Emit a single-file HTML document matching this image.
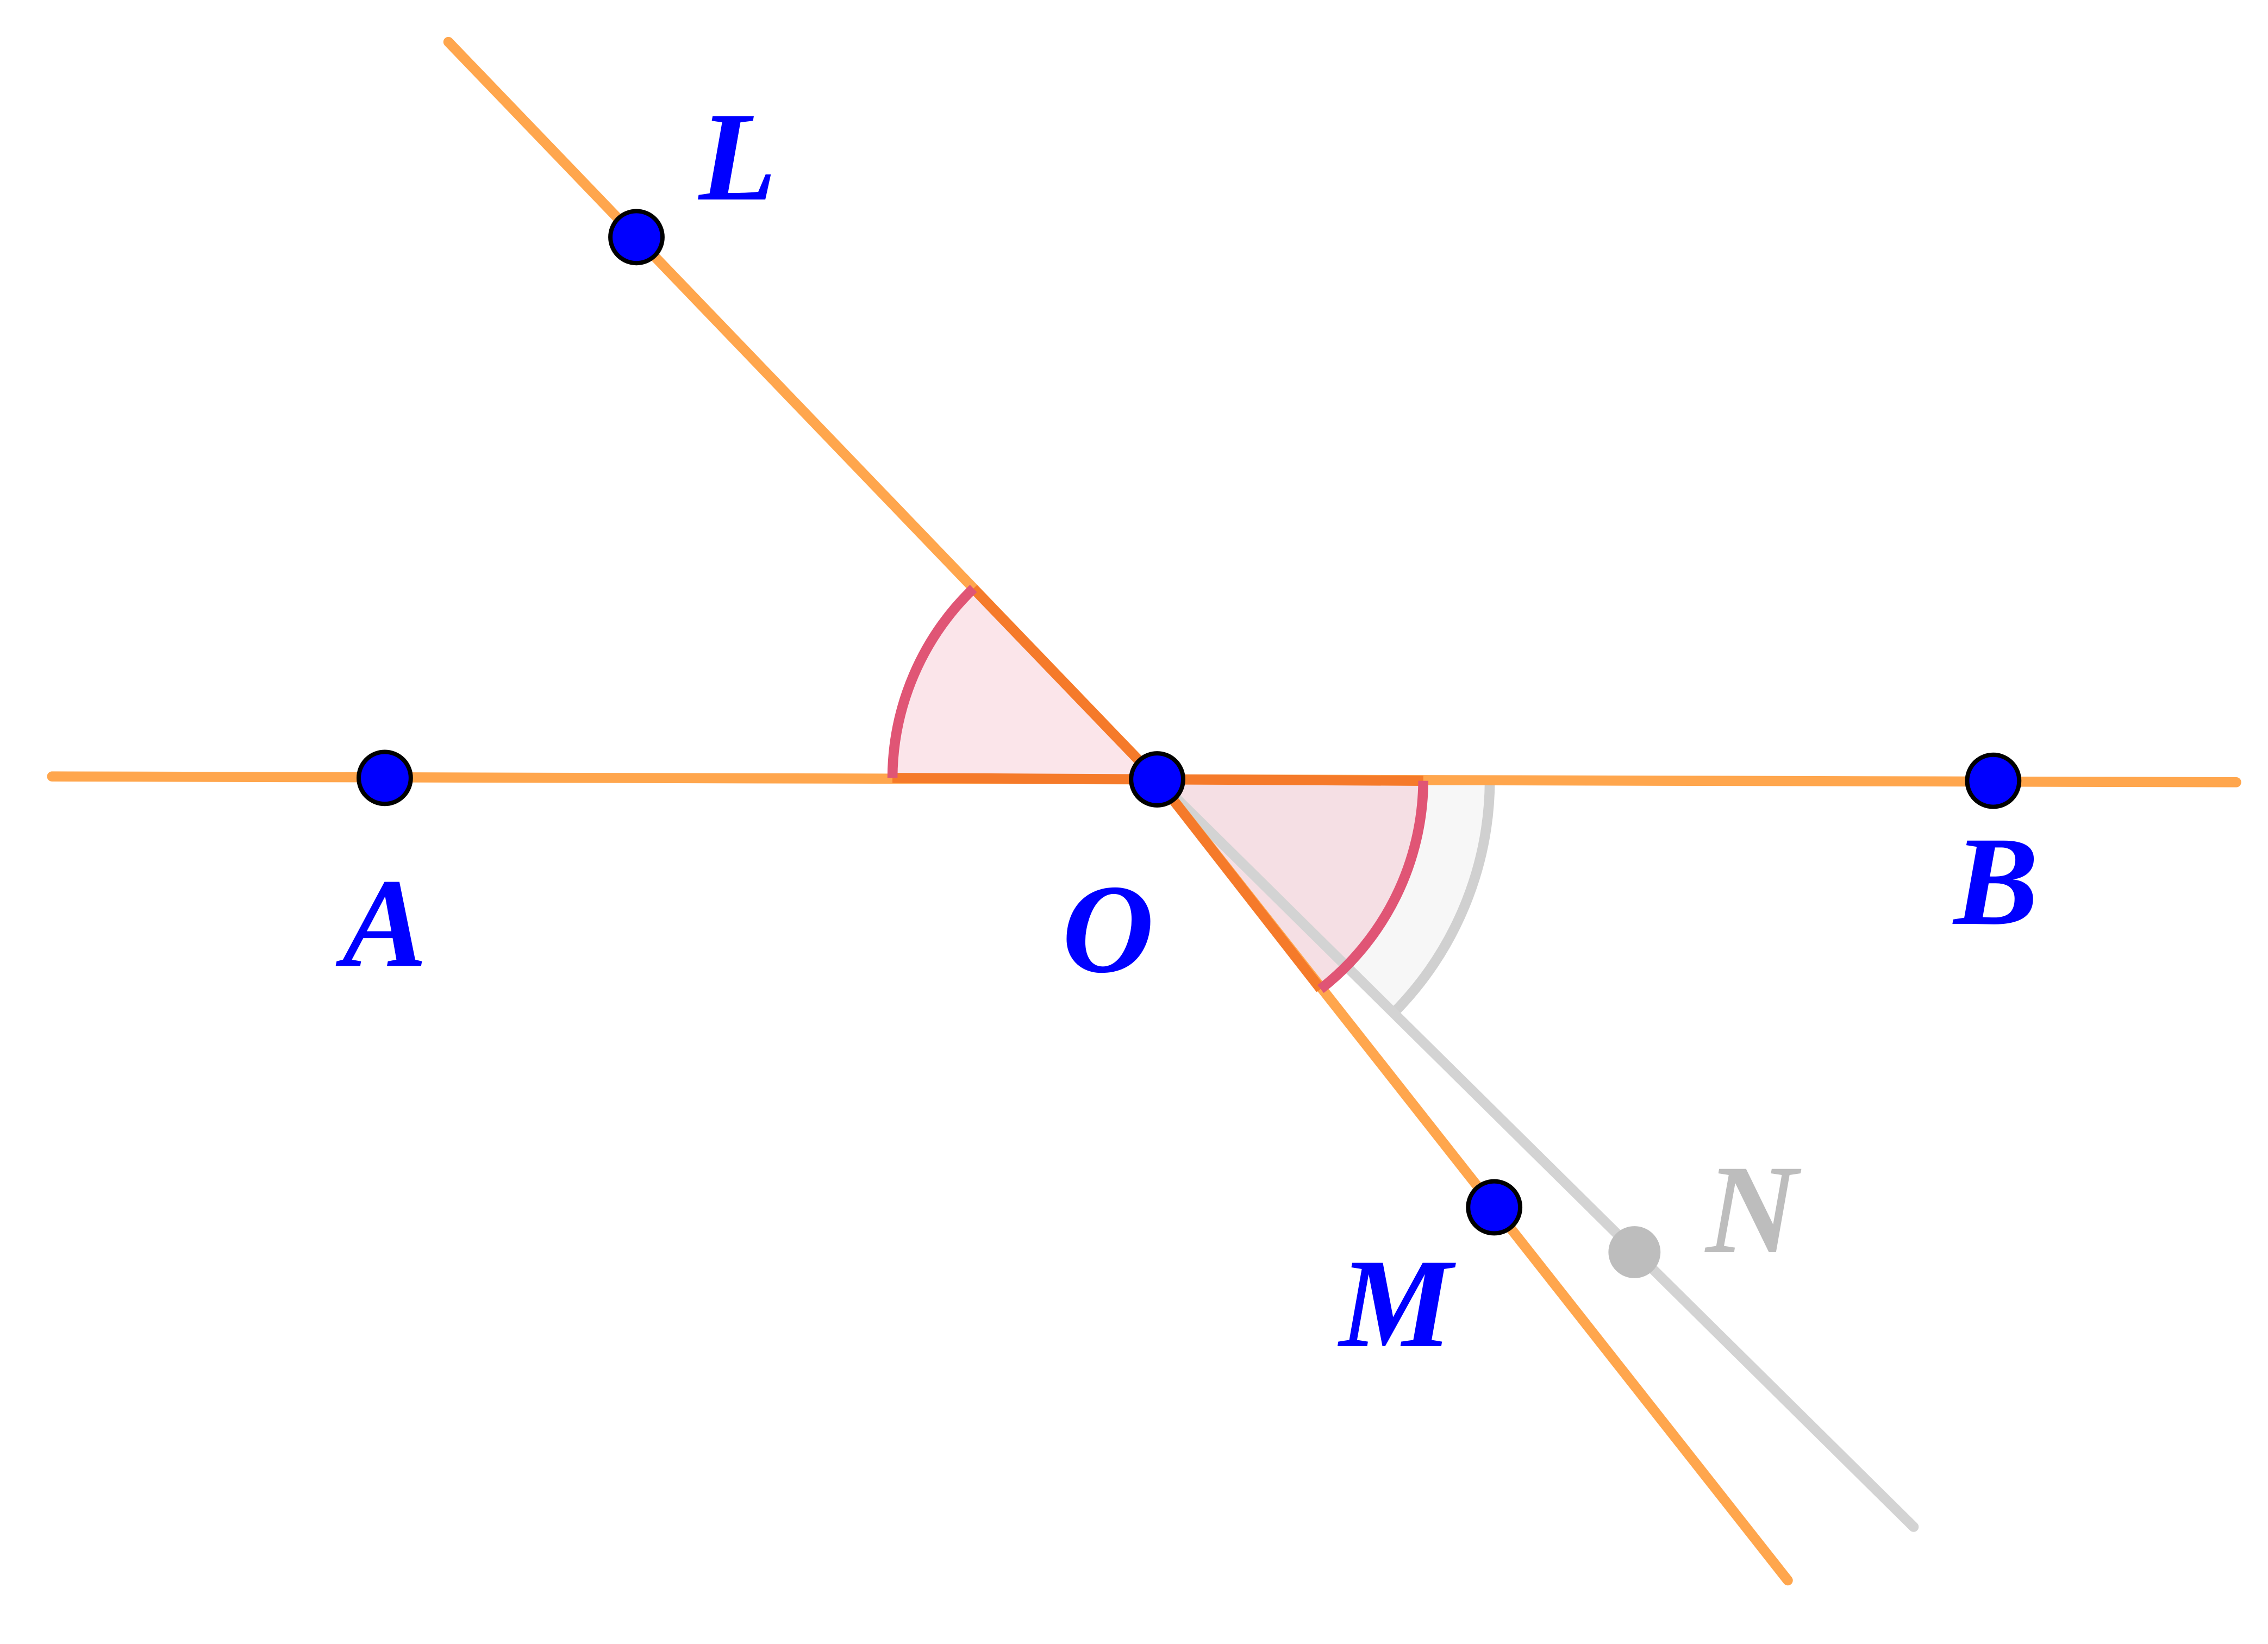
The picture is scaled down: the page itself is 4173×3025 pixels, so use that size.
<!DOCTYPE html>
<html><head><meta charset="utf-8"><style>
html,body{margin:0;padding:0;background:#fff;}
svg{display:block;}
text{font-family:"Liberation Serif",serif;font-style:italic;font-weight:bold;font-size:88px;text-anchor:middle;}
</style></head><body>
<svg width="4173" height="3025" viewBox="0 0 1568 1137" preserveAspectRatio="none" xmlns="http://www.w3.org/2000/svg">
<path d="M800,539 L1030,540 A230,230 0 0 1 964,700 Z" fill="#f7f7f7" stroke="none"/>
<path d="M1030,540 A230,230 0 0 1 964,700" fill="none" stroke="#d0d0d0" stroke-width="7"/>
<path d="M800,539 L617,538 A183,183 0 0 1 673,407 Z" fill="#fbe5ea"/>
<path d="M800,539 L984,540 A184,184 0 0 1 913,684 Z" fill="#f5dfe4"/>
<line x1="800" y1="539" x2="1323" y2="1056" stroke="#d3d3d3" stroke-width="7" stroke-linecap="round"/>
<line x1="36" y1="537" x2="1546" y2="541" stroke="#ffa64d" stroke-width="7" stroke-linecap="round"/>
<line x1="310" y1="29" x2="800" y2="539" stroke="#ffa64d" stroke-width="7" stroke-linecap="round"/>
<line x1="800" y1="539" x2="1236" y2="1093" stroke="#ffa64d" stroke-width="7" stroke-linecap="round"/>
<path d="M617,538 L800,539 L673,407" fill="none" stroke="#f57a2a" stroke-width="7"/>
<path d="M984,540 L800,539 L913,684" fill="none" stroke="#f57a2a" stroke-width="7"/>
<path d="M617,538 A183,183 0 0 1 673,407" fill="none" stroke="#e05575" stroke-width="7"/>
<path d="M984,540 A184,184 0 0 1 913,684" fill="none" stroke="#e05575" stroke-width="7"/>
<circle cx="1130" cy="866" r="18" fill="#bdbdbd"/>
<g fill="#0000ff" stroke="#000" stroke-width="3">
<circle cx="266" cy="538" r="18"/>
<circle cx="440" cy="164" r="18"/>
<circle cx="800" cy="539" r="18"/>
<circle cx="1378" cy="540" r="18"/>
<circle cx="1033" cy="835" r="18"/>
</g>
<g fill="#0000ff">
<text x="510" y="138">L</text>
<text x="266" y="668">A</text>
<text x="766" y="672">O</text>
<text x="1380" y="639">B</text>
<text x="965" y="931">M</text>
</g>
<text x="1211" y="866" fill="#bdbdbd">N</text>
</svg>
</body></html>
